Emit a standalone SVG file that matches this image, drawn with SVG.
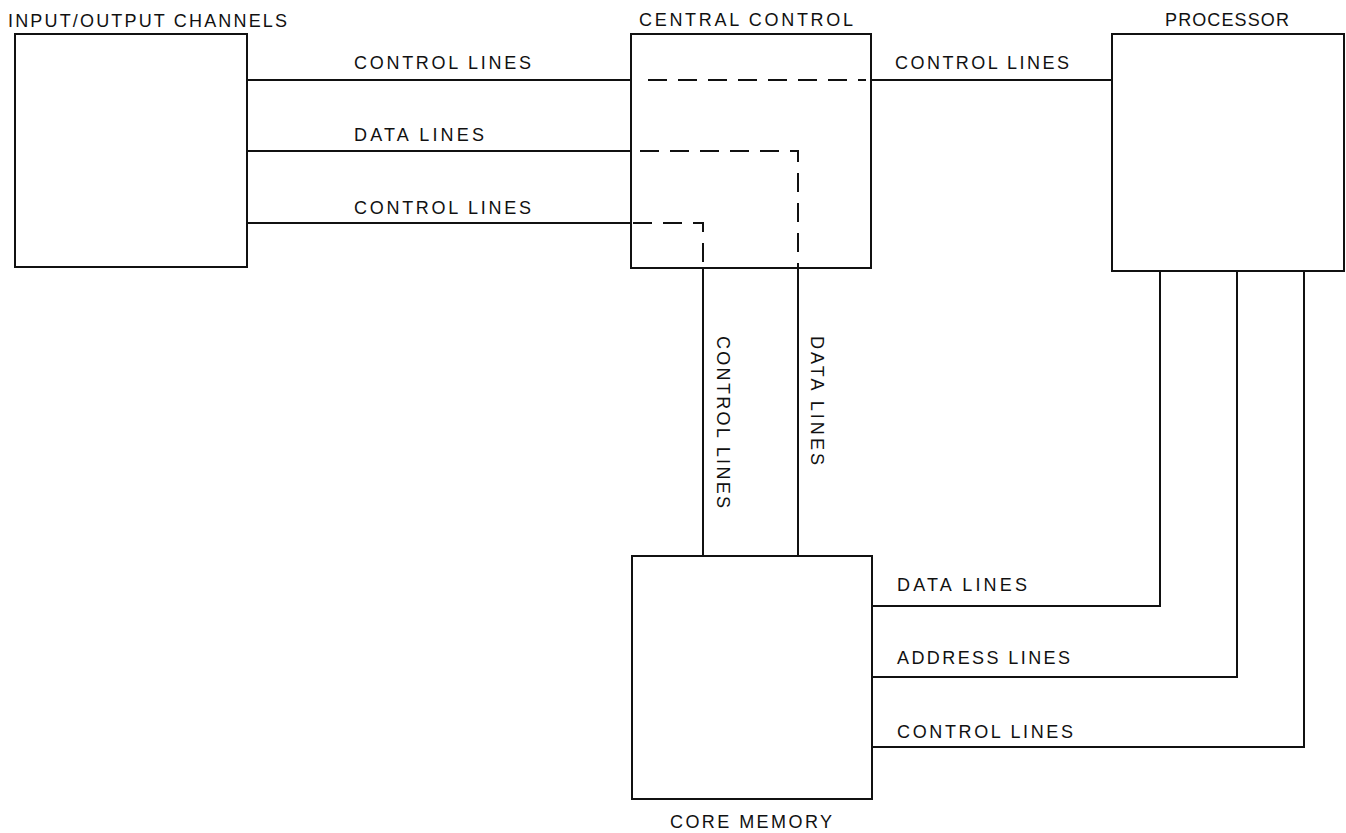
<svg xmlns="http://www.w3.org/2000/svg" width="1346" height="833" viewBox="0 0 1346 833">
  <style>
    .box { fill: none; stroke: #111; stroke-width: 2; }
    .wire { fill: none; stroke: #111; stroke-width: 2; }
    .dash { fill: none; stroke: #111; stroke-width: 2; stroke-dasharray: 19 11; }
    text { font-family: "Liberation Sans", Arial, Helvetica, sans-serif; font-size: 18px; fill: #111; }
  </style>
  <rect width="1346" height="833" fill="#fff"/>

  <!-- connectors -->
  <g id="connectors">
    <!-- I/O channels to central control -->
    <path class="wire" d="M247 80 H631"/>
    <path class="wire" d="M247 151 H631"/>
    <path class="wire" d="M247 223 H631"/>
    <!-- central control to processor -->
    <path class="wire" d="M871 80 H1112"/>
    <!-- routing inside central control -->
    <path class="dash" d="M648 80 H866"/>
    <path class="dash" d="M640 151 H798 V268"/>
    <path class="dash" d="M633 223 H703 V268"/>
    <!-- central control to core memory -->
    <path class="wire" d="M703 268 V556"/>
    <path class="wire" d="M798 268 V556"/>
    <!-- processor to core memory -->
    <path class="wire" d="M1160 271 V606 H872"/>
    <path class="wire" d="M1237 271 V677 H872"/>
    <path class="wire" d="M1304 271 V747 H872"/>

    <text x="354" y="69" textLength="177" lengthAdjust="spacing">CONTROL LINES</text>
    <text x="354" y="141" textLength="130" lengthAdjust="spacing">DATA LINES</text>
    <text x="354" y="214" textLength="177" lengthAdjust="spacing">CONTROL LINES</text>
    <text x="895" y="69" textLength="174" lengthAdjust="spacing">CONTROL LINES</text>
    <text transform="translate(717 336) rotate(90)" textLength="172" lengthAdjust="spacing">CONTROL LINES</text>
    <text transform="translate(811 336) rotate(90)" textLength="129" lengthAdjust="spacing">DATA LINES</text>
    <text x="897" y="591" textLength="130" lengthAdjust="spacing">DATA LINES</text>
    <text x="897" y="664" textLength="173" lengthAdjust="spacing">ADDRESS LINES</text>
    <text x="897" y="738" textLength="176" lengthAdjust="spacing">CONTROL LINES</text>
  </g>

  <g id="io-channels">
    <rect class="box" x="15" y="34" width="232" height="233"/>
    <text x="8" y="27" textLength="279" lengthAdjust="spacing">INPUT/OUTPUT CHANNELS</text>
  </g>

  <g id="central-control">
    <rect class="box" x="631" y="34" width="240" height="234"/>
    <text x="639" y="26" textLength="214" lengthAdjust="spacing">CENTRAL CONTROL</text>
  </g>

  <g id="processor">
    <rect class="box" x="1112" y="34" width="232" height="237"/>
    <text x="1165" y="26" textLength="124" lengthAdjust="spacing">PROCESSOR</text>
  </g>

  <g id="core-memory">
    <rect class="box" x="632" y="556" width="240" height="243"/>
    <text x="670" y="828" textLength="162" lengthAdjust="spacing">CORE MEMORY</text>
  </g>
</svg>
